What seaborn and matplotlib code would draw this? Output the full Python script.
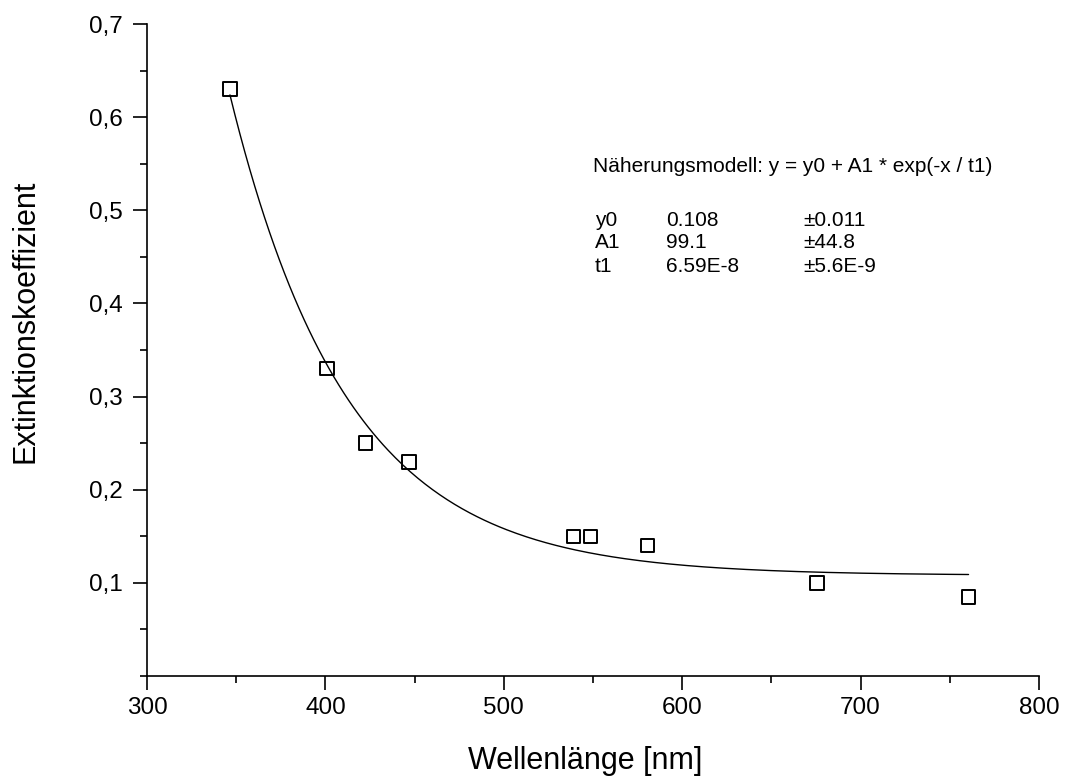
import numpy as np
import pandas as pd
import matplotlib
matplotlib.use("Agg")
import matplotlib.pyplot as plt
from matplotlib.ticker import MultipleLocator, FuncFormatter
import seaborn as sns

# Data
wavelength = [346.5, 401, 422.5, 447, 539, 548.5, 580.5, 675.5, 760.5]
extinction = [0.63, 0.33, 0.25, 0.23, 0.15, 0.15, 0.14, 0.10, 0.085]

# Fit parameters shown in the chart (x in nm -> t1 = 65.9 nm)
fit_y0 = 0.108
fit_A1 = 99.1
fit_t1_nm = 65.9

x_ticks = [300, 400, 500, 600, 700, 800]
y_ticks = [0.1, 0.2, 0.3, 0.4, 0.5, 0.6, 0.7]

header = "Näherungsmodell: y = y0 + A1 * exp(-x / t1)"
param_names = ["y0", "A1", "t1"]
param_values = ["0.108", "99.1", "6.59E-8"]
param_errors = ["±0.011", "±44.8", "±5.6E-9"]

sns.set_theme(style="ticks")
plt.rcParams['font.family'] = ['Liberation Sans', 'DejaVu Sans']
plt.rcParams['text.color'] = 'black'
plt.rcParams['axes.labelcolor'] = 'black'

df = pd.DataFrame({"x": wavelength, "y": extinction})
xf = np.linspace(min(wavelength), max(wavelength), 300)
fit_df = pd.DataFrame({"x": xf, "y": fit_y0 + fit_A1 * np.exp(-xf / fit_t1_nm)})

W, H = 1068, 776
fig = plt.figure(figsize=(W / 100, H / 100), dpi=100)
ax = fig.add_axes([147 / W, 1 - 676 / H, (1039 - 147) / W, (676 - 24) / H])

sns.lineplot(data=fit_df, x="x", y="y", ax=ax, color="black", linewidth=1.0)
sns.scatterplot(data=df, x="x", y="y", ax=ax, marker="s", s=95,
                facecolor="none", edgecolor="black", linewidth=1.4, zorder=3)

ax.set_xlim(300, 800)
ax.set_ylim(0, 0.7)
ax.set_xticks(x_ticks)
ax.set_yticks(y_ticks)
ax.xaxis.set_minor_locator(MultipleLocator(50))
ax.yaxis.set_minor_locator(MultipleLocator(0.05))
ax.yaxis.set_major_formatter(FuncFormatter(lambda v, p: f"{v:.1f}".replace(".", ",")))

for side in ["top", "right"]:
    ax.spines[side].set_visible(False)
for side in ["left", "bottom"]:
    ax.spines[side].set_color("black")
    ax.spines[side].set_linewidth(1.2)

ax.tick_params(axis="both", which="major", direction="out", length=10, width=1.2,
               colors="black", labelsize=17.5)
ax.tick_params(axis="x", which="major", pad=5)
ax.tick_params(axis="y", which="major", pad=7.5)
ax.tick_params(axis="both", which="minor", direction="out", length=5, width=1.2,
               colors="black")

ax.set_xlabel("Wellenlänge [nm]", fontsize=22, va="baseline")
ax.xaxis.set_label_coords((585 - 147) / 892, (676 - 769) / 652)
ax.set_ylabel("Extinktionskoeffizient", fontsize=22, va="center", ha="center")
ax.yaxis.set_label_coords((26 - 147) / 892, (676 - 321) / 652)

fs = 15
fig.text(593 / W, 1 - 172 / H, header, fontsize=fs, va="baseline", ha="left")
baselines = [225.5, 248.5, 271.5]
for name, val, err, b in zip(param_names, param_values, param_errors, baselines):
    yy = 1 - b / H
    fig.text(595 / W, yy, name, fontsize=fs, va="baseline", ha="left")
    fig.text(666 / W, yy, val, fontsize=fs, va="baseline", ha="left")
    fig.text(803 / W, yy, err, fontsize=fs, va="baseline", ha="left")

fig.savefig("out.png", dpi=100)
